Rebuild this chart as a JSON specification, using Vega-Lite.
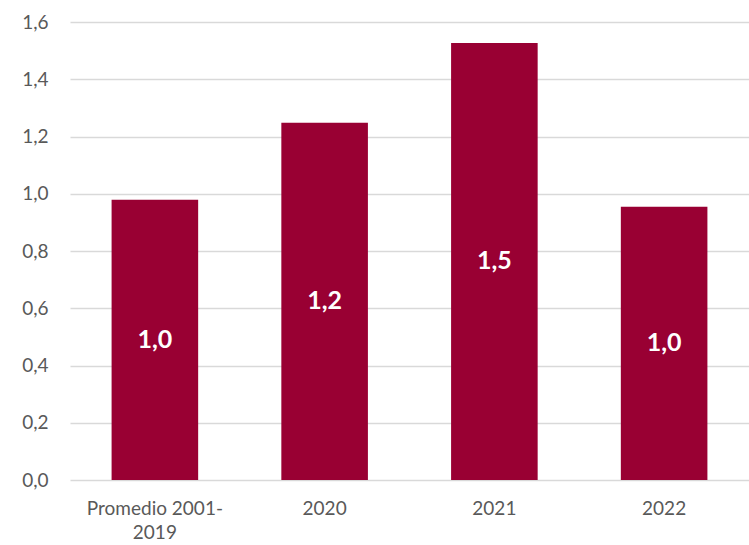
{
  "$schema": "https://vega.github.io/schema/vega-lite/v6.json",
  "autosize": "none",
  "padding": {"left": 70, "top": 22, "right": 0, "bottom": 65},
  "width": 679,
  "height": 458,
  "background": "white",
  "config": {
    "view": {"stroke": null},
    "locale": {"number": {"decimal": ",", "thousands": ".", "grouping": [3], "currency": ["", " €"]}},
    "font": "Lato"
  },
  "data": {
    "values": [
      {"periodo": "Promedio 2001-2019", "valor": 0.979},
      {"periodo": "2020", "valor": 1.248},
      {"periodo": "2021", "valor": 1.527},
      {"periodo": "2022", "valor": 0.955}
    ]
  },
  "transform": [{"calculate": "datum.valor / 2", "as": "medio"}],
  "encoding": {
    "x": {
      "field": "periodo",
      "type": "nominal",
      "sort": null,
      "scale": {"paddingInner": 0.49, "paddingOuter": 0.245},
      "axis": {
        "title": null,
        "labelAngle": 0,
        "domain": false,
        "ticks": false,
        "labelPadding": 19,
        "labelFontSize": 19,
        "labelColor": "#595959",
        "labelFont": "Lato",
        "labelLineHeight": 24,
        "labelExpr": "datum.value == 'Promedio 2001-2019' ? ['Promedio 2001-', '2019'] : datum.value"
      }
    }
  },
  "layer": [
    {
      "mark": {"type": "bar", "color": "#990033"},
      "encoding": {
        "y": {
          "field": "valor",
          "type": "quantitative",
          "scale": {"domain": [0, 1.6]},
          "axis": {
            "title": null,
            "values": [0, 0.2, 0.4, 0.6, 0.8, 1.0, 1.2, 1.4, 1.6],
            "format": ".1f",
            "domain": false,
            "ticks": false,
            "labelPadding": 22,
            "labelFontSize": 19,
            "labelColor": "#595959",
            "labelFont": "Lato",
            "gridColor": "#d9d9d9",
            "gridWidth": 1.5
          }
        }
      }
    },
    {
      "mark": {"type": "text", "color": "white", "fontWeight": "bold", "fontSize": 25, "font": "Lato", "baseline": "middle", "align": "center"},
      "encoding": {
        "y": {"field": "medio", "type": "quantitative"},
        "text": {"field": "valor", "type": "quantitative", "format": ".1f"}
      }
    }
  ]
}
